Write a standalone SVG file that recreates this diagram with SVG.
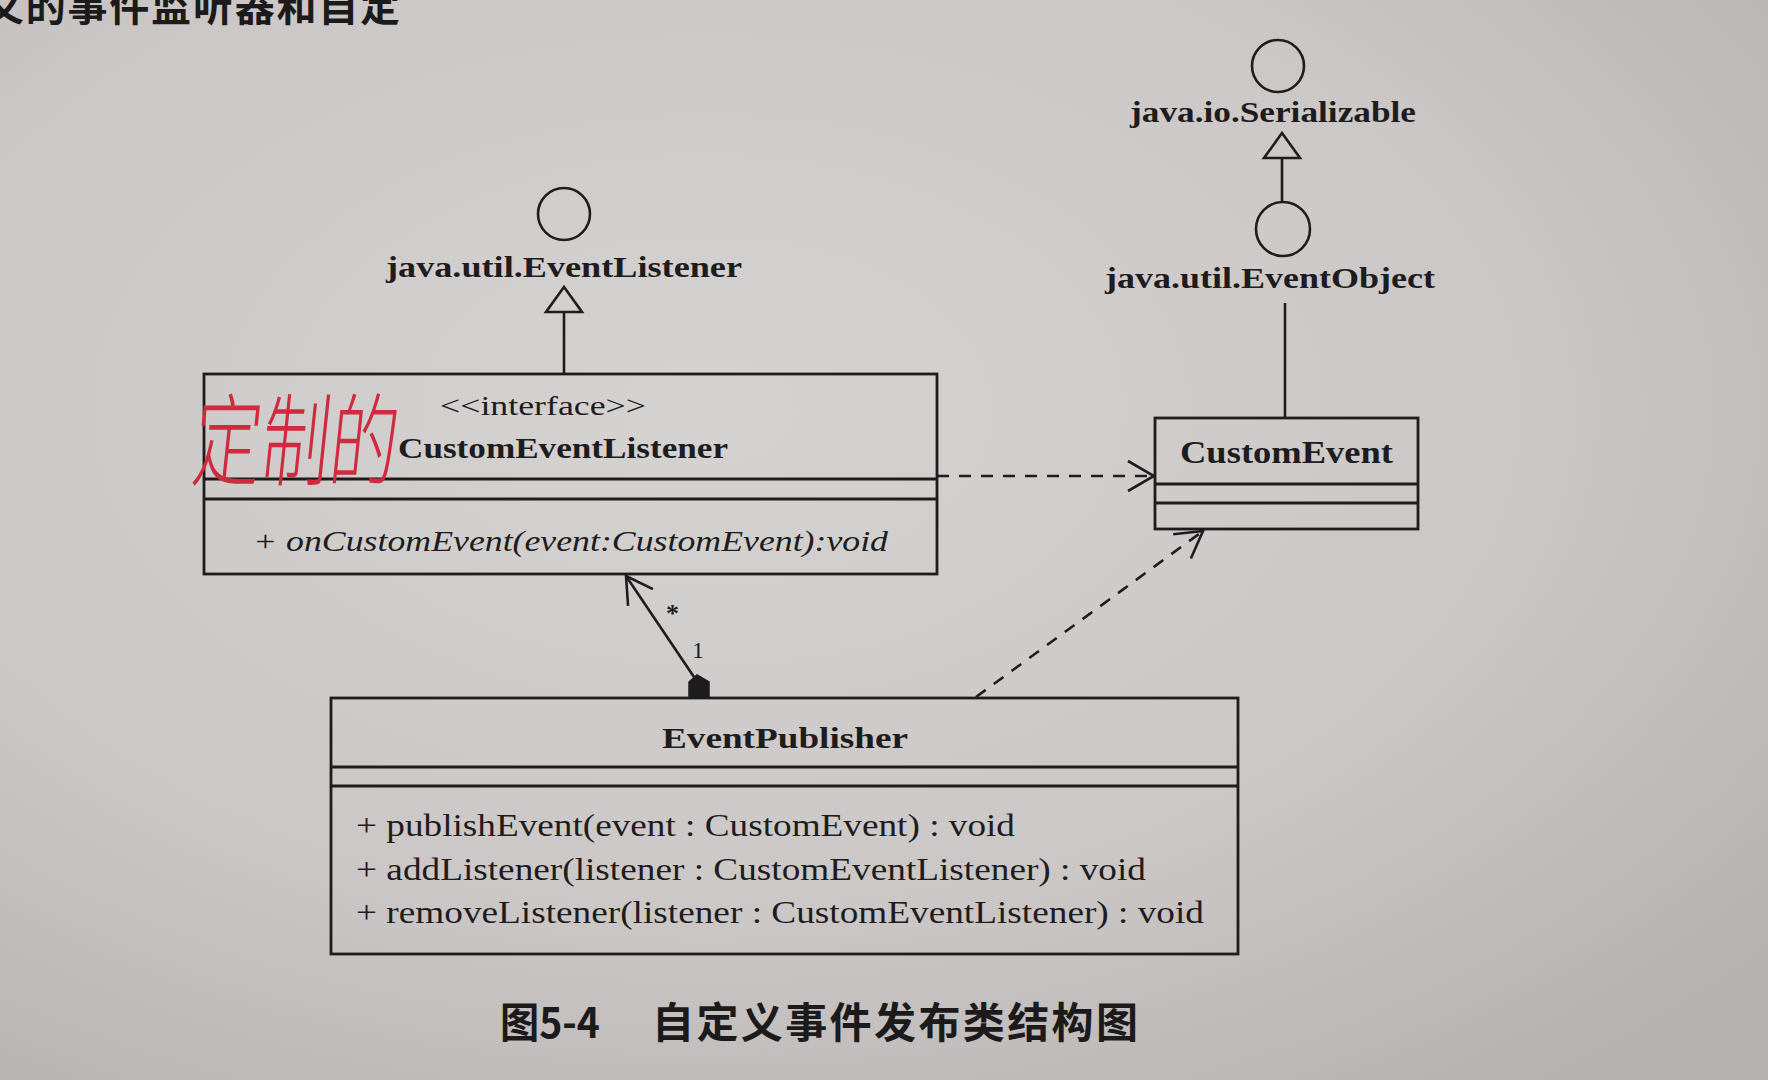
<svg xmlns="http://www.w3.org/2000/svg" width="1768" height="1080" viewBox="0 0 1768 1080">
<style>
.ln{stroke:#1e1c1c;stroke-width:2.6;fill:none}
.box{stroke:#1e1c1c;stroke-width:2.8;fill:none}
.dash{stroke:#1e1c1c;stroke-width:2.6;fill:none;stroke-dasharray:12 10}
.t{font-family:"Liberation Serif","Times New Roman",serif;fill:#1e1c1c}
.b{font-weight:bold}
.i{font-style:italic}
.cjk{font-family:"Noto Sans CJK SC",sans-serif;font-weight:bold;fill:#1c1a1a}
</style>
<defs>
<radialGradient id="paper" cx="0.4" cy="0.38" r="0.78">
<stop offset="0" stop-color="#d5d2d2"/>
<stop offset="0.6" stop-color="#cbc7c7"/>
<stop offset="1" stop-color="#b6b2b2"/>
</radialGradient>
<marker id="open" viewBox="0 0 30 36" refX="28" refY="18" markerWidth="30" markerHeight="36" markerUnits="userSpaceOnUse" orient="auto">
<path d="M2,3 L28,18 L2,33" fill="none" stroke="#1e1c1c" stroke-width="2.6"/>
</marker>
</defs>
<rect id="background" x="0" y="0" width="1768" height="1080" fill="url(#paper)"/>

<g id="page-text">
<text class="cjk" x="-16" y="21" font-size="40" textLength="416">义的事件监听器和自定</text>
</g>

<g id="EventListener">
<circle class="ln" cx="564" cy="214" r="26"/>
<text class="t b" x="386" y="277" font-size="30" textLength="356" lengthAdjust="spacingAndGlyphs">java.util.EventListener</text>
</g>

<g id="Serializable">
<circle class="ln" cx="1278" cy="66" r="26"/>
<text class="t b" x="1130" y="122" font-size="30" textLength="286" lengthAdjust="spacingAndGlyphs">java.io.Serializable</text>
</g>

<g id="EventObject">
<circle class="ln" cx="1283" cy="229" r="27"/>
<text class="t b" x="1105" y="288" font-size="30" textLength="330" lengthAdjust="spacingAndGlyphs">java.util.EventObject</text>
</g>

<g id="CustomEventListener">
<rect class="box" x="204" y="374" width="733" height="200"/>
<line class="box" x1="204" y1="479" x2="937" y2="479" stroke-width="3.2"/>
<line class="box" x1="204" y1="499" x2="937" y2="499"/>
<text class="t" x="440" y="415" font-size="27" textLength="206" lengthAdjust="spacingAndGlyphs">&lt;&lt;interface&gt;&gt;</text>
<text class="t b" x="398" y="458" font-size="30" textLength="330" lengthAdjust="spacingAndGlyphs">CustomEventListener</text>
<text class="t i" x="253" y="551" font-size="29" textLength="635" lengthAdjust="spacingAndGlyphs">+ onCustomEvent(event:CustomEvent):void</text>
</g>

<g id="annotation">
<text transform="translate(190,478) skewX(-6) scale(0.95,1.4)" font-family="Noto Sans CJK SC,sans-serif" font-weight="300" font-size="72" fill="#d02a3e">定制的</text>
</g>

<g id="CustomEvent">
<rect class="box" x="1155" y="418" width="263" height="111"/>
<line class="box" x1="1155" y1="484" x2="1418" y2="484"/>
<line class="box" x1="1155" y1="503" x2="1418" y2="503"/>
<text class="t b" x="1180" y="463" font-size="31" textLength="213" lengthAdjust="spacingAndGlyphs">CustomEvent</text>
</g>

<g id="EventPublisher">
<rect class="box" x="331" y="698" width="907" height="256"/>
<line class="box" x1="331" y1="767" x2="1238" y2="767" stroke-width="3.2"/>
<line class="box" x1="331" y1="786" x2="1238" y2="786"/>
<text class="t b" x="662" y="748" font-size="30" textLength="246" lengthAdjust="spacingAndGlyphs">EventPublisher</text>
<text class="t" x="356" y="836" font-size="31" textLength="659" lengthAdjust="spacingAndGlyphs">+ publishEvent(event : CustomEvent) : void</text>
<text class="t" x="356" y="880" font-size="31" textLength="790" lengthAdjust="spacingAndGlyphs">+ addListener(listener : CustomEventListener) : void</text>
<text class="t" x="356" y="923" font-size="31" textLength="848" lengthAdjust="spacingAndGlyphs">+ removeListener(listener : CustomEventListener) : void</text>
</g>

<g id="connectors">
<path class="ln" d="M564,374 L564,312"/>
<path class="ln" d="M546,312 L582,312 L564,287 Z"/>
<path class="ln" d="M1282,203 L1282,158"/>
<path class="ln" d="M1264,158 L1300,158 L1282,133 Z"/>
<path class="ln" d="M1285,418 L1285,303"/>
<path class="dash" d="M937,476 L1154,476" marker-end="url(#open)"/>
<path class="dash" d="M976,697 L1203,531" marker-end="url(#open)"/>
<path d="M689,698 L709,698 L709,682 L697,675 L689,682 Z" fill="#1e1c1c" stroke="#1e1c1c" stroke-width="1.5"/>
<path class="ln" d="M694,677 L626,576" marker-end="url(#open)"/>
<text class="t b" x="666" y="622" font-size="26">*</text>
<text class="t" x="692" y="658" font-size="24">1</text>
</g>

<g id="caption">
<text class="cjk" x="500" y="1038" font-size="42" textLength="100" lengthAdjust="spacingAndGlyphs">图5-4</text>
<text class="cjk" x="652" y="1038" font-size="42" textLength="486">自定义事件发布类结构图</text>
</g>
</svg>
